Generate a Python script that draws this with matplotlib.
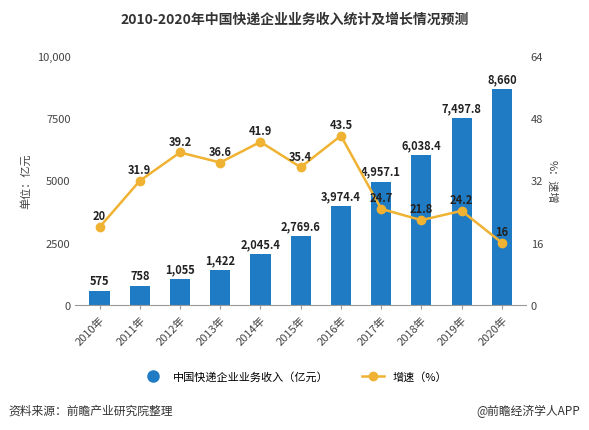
import matplotlib
matplotlib.use('Agg')
import matplotlib.pyplot as plt
import numpy as np

plt.rcParams['font.family'] = ['Noto Sans CJK SC', 'DejaVu Sans']

years = ['2010年','2011年','2012年','2013年','2014年','2015年','2016年','2017年','2018年','2019年','2020年']
revenue = [575, 758, 1055, 1422, 2045.4, 2769.6, 3974.4, 4957.1, 6038.4, 7497.8, 8660]
rev_labels = ['575','758','1,055','1,422','2,045.4','2,769.6','3,974.4','4,957.1','6,038.4','7,497.8','8,660']
growth = [20, 31.9, 39.2, 36.6, 41.9, 35.4, 43.5, 24.7, 21.8, 24.2, 16]
growth_labels = ['20','31.9','39.2','36.6','41.9','35.4','43.5','24.7','21.8','24.2','16']

bar_c = '#1f7bc4'
line_c = '#f0b232'

fig = plt.figure(figsize=5.89/1*np.array([1, 431/589]), dpi=100)
ax = fig.add_axes([0.128, 0.29, 0.765, 0.578])
x = np.arange(len(years))
ax.bar(x, revenue, width=0.5, color=bar_c, zorder=2)
for xi, v, l in zip(x, revenue, rev_labels):
    ax.text(xi, v + 150, l, ha='center', va='bottom', fontsize=8, fontweight='bold', color='#222222')
ax.set_ylim(0, 10000)
ax.set_xlim(-0.6, len(years) - 0.4)
ax.set_yticks([0, 2500, 5000, 7500, 10000])
ax.set_yticklabels(['0', '2500', '5000', '7500', '10,000'], fontsize=8, color='#444444')
ax.set_xticks(x)
ax.set_xticklabels(years, rotation=45, ha='right', rotation_mode='anchor', fontsize=8, color='#444444')
ax.set_ylabel('单位：亿元', fontsize=8, color='#444444')
for s in ['top', 'right', 'left']:
    ax.spines[s].set_visible(False)
ax.spines['bottom'].set_color('#999999')
ax.tick_params(axis='both', length=0)
ax.tick_params(axis='x', length=3, color='#999999')

ax2 = ax.twinx()
ax2.plot(x, growth, color=line_c, lw=1.8, marker='o', ms=6, zorder=3)
for xi, v, l in zip(x, growth, growth_labels):
    ax2.text(xi, v + 1.2, l, ha='center', va='bottom', fontsize=8, fontweight='bold', color='#222222')
ax2.set_ylim(0, 64)
ax2.set_yticks([0, 16, 32, 48, 64])
ax2.set_yticklabels(['0', '16', '32', '48', '64'], fontsize=8, color='#444444')
ax2.set_ylabel('%：速增', fontsize=8, color='#444444', rotation=270, labelpad=10)
for s in ['top', 'right', 'left', 'bottom']:
    ax2.spines[s].set_visible(False)
ax2.tick_params(axis='y', length=0)

fig.text(0.5, 0.955, '2010-2020年中国快递企业业务收入统计及增长情况预测', ha='center', va='center',
         fontsize=10, fontweight='bold', color='#333333')

from matplotlib.lines import Line2D
h1 = Line2D([], [], marker='o', color='none', markerfacecolor=bar_c, markeredgecolor=bar_c, ms=8)
h2 = Line2D([], [], marker='o', color=line_c, ms=6, lw=1.8)
fig.legend([h1, h2], ['中国快递企业业务收入（亿元）', '增速（%）'], loc='center', bbox_to_anchor=(0.5, 0.125),
           ncol=2, frameon=False, fontsize=8, columnspacing=3, handlelength=2)

fig.text(0.015, 0.045, '资料来源：前瞻产业研究院整理', fontsize=8.5, color='#333333', va='center')
fig.text(0.985, 0.045, '@前瞻经济学人APP', fontsize=8.5, color='#333333', va='center', ha='right')

fig.savefig('out.png', dpi=100)
